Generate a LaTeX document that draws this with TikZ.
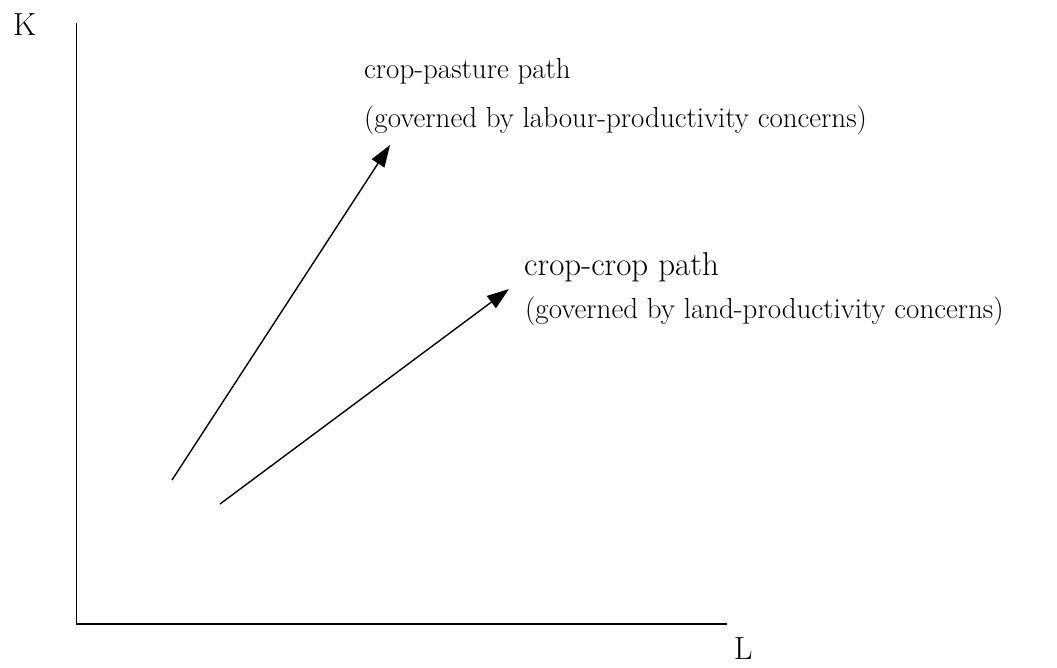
\documentclass[tikz,border=0pt]{standalone}
\usetikzlibrary{arrows.meta}
\begin{document}
\begin{tikzpicture}[x=1pt,y=-1pt,
  axis/.style={line width=1.5pt},
  axisthick/.style={line width=1.8pt},
  patharrow/.style={line width=1.4pt,-{Triangle[length=22pt,width=15pt]}},
  lbl/.style={inner sep=0pt,anchor=base west,font=\fontsize{29}{35}\selectfont},
  biglbl/.style={lbl,font=\fontsize{33}{40}\selectfont},
  axlbl/.style={inner sep=0pt,anchor=base west,font=\fontsize{32}{38}\selectfont}]
\useasboundingbox (0,0) rectangle (1057,668);
% axes
\coordinate (ytop) at (76.5,23);
\coordinate (ya) at (76.5,73);
\coordinate (yb) at (76.5,578);
\coordinate (origin) at (76.5,624);
\coordinate (xend) at (727,624);
\draw[axis] (ytop) -- (ya);
\draw[axisthick] (ya) -- (yb);
\draw[axis] (yb) -- (origin) -- (xend);
\node[axlbl] (K) at (13,36) {K};
\node[axlbl] (L) at (734,659) {L};
% paths
\coordinate (p1s) at (172,480);
\coordinate (p1e) at (390,145);
\coordinate (p2s) at (220,504);
\coordinate (p2e) at (509,289);
\draw[patharrow] (p1s) -- (p1e);
\draw[patharrow] (p2s) -- (p2e);
% labels
\node[lbl] (cp) at (364,79) {crop-pasture path};
\node[lbl] (cpg) at (364,128) {(governed by labour-productivity concerns)};
\node[biglbl] (cc) at (524,276) {crop-crop path};
\node[lbl] (ccg) at (525,318) {(governed by land-productivity concerns)};
\end{tikzpicture}
\end{document}
